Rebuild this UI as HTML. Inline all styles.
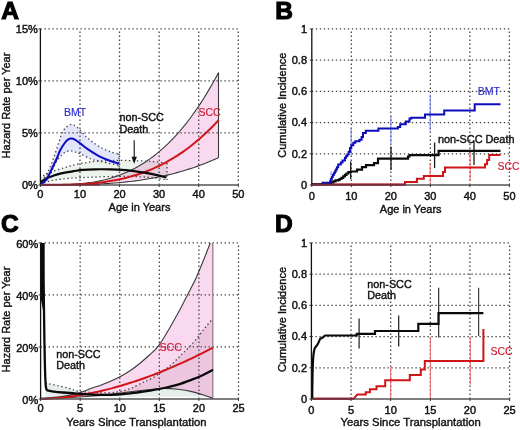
<!DOCTYPE html>
<html><head><meta charset="utf-8"><style>
html,body{margin:0;padding:0;background:#fff;}
body{width:520px;height:430px;overflow:hidden;font-family:"Liberation Sans",sans-serif;}
svg{display:block;}
</style></head><body>
<svg width="520" height="430" viewBox="0 0 520 430">
<rect width="520" height="430" fill="#fff"/>
<g>
<path d="M40.4,185 L43.37,185 L46.34,185 L49.31,184.99 L52.27,184.97 L55.24,184.93 L58.21,184.89 L61.18,184.82 L64.15,184.73 L67.12,184.62 L70.08,184.48 L73.05,184.31 L76.02,184.1 L78.99,183.86 L81.96,183.57 L84.93,183.24 L87.9,182.87 L90.86,182.44 L93.83,181.97 L96.8,181.43 L99.77,180.84 L102.74,180.18 L105.71,179.46 L108.68,178.67 L111.64,177.81 L114.61,176.87 L117.58,175.86 L120.55,174.76 L123.52,173.58 L126.49,172.31 L129.46,170.95 L132.42,169.5 L135.39,167.95 L138.36,166.3 L141.33,164.55 L144.3,162.69 L147.27,160.73 L150.23,158.65 L153.2,156.45 L156.17,154.14 L159.14,151.7 L162.11,149.14 L165.08,146.46 L168.05,143.64 L171.01,140.68 L173.98,137.59 L176.95,134.36 L179.92,130.99 L182.89,127.46 L185.86,123.79 L188.83,119.97 L191.79,115.99 L194.76,111.85 L197.73,107.55 L200.7,103.08 L203.67,98.44 L206.64,93.64 L209.6,88.65 L212.57,83.49 L215.54,78.15 L218.51,72.63 L218.51,157.59 L215.54,158.94 L212.57,160.24 L209.6,161.5 L206.64,162.72 L203.67,163.89 L200.7,165.02 L197.73,166.11 L194.76,167.16 L191.79,168.17 L188.83,169.14 L185.86,170.07 L182.89,170.97 L179.92,171.83 L176.95,172.65 L173.98,173.44 L171.01,174.19 L168.05,174.91 L165.08,175.6 L162.11,176.26 L159.14,176.88 L156.17,177.47 L153.2,178.04 L150.23,178.57 L147.27,179.08 L144.3,179.56 L141.33,180.01 L138.36,180.44 L135.39,180.84 L132.42,181.22 L129.46,181.57 L126.49,181.91 L123.52,182.21 L120.55,182.5 L117.58,182.77 L114.61,183.02 L111.64,183.25 L108.68,183.46 L105.71,183.65 L102.74,183.82 L99.77,183.98 L96.8,184.13 L93.83,184.26 L90.86,184.38 L87.9,184.48 L84.93,184.57 L81.96,184.65 L78.99,184.72 L76.02,184.78 L73.05,184.83 L70.08,184.87 L67.12,184.91 L64.15,184.94 L61.18,184.96 L58.21,184.97 L55.24,184.98 L52.27,184.99 L49.31,185 L46.34,185 L43.37,185 L40.4,185 Z" fill="#f9d9f0" stroke="none"/>
<path d="M40.3,178.5 C40.67,178.12 41.22,177.03 42.5,176.2 C43.78,175.37 45.92,174.43 48,173.5 C50.08,172.57 52.43,171.52 55,170.6 C57.57,169.68 60.9,168.77 63.4,168 C65.9,167.23 67.57,166.67 70,166 C72.43,165.33 75.17,164.58 78,164 C80.83,163.42 84.17,162.95 87,162.5 C89.83,162.05 91.17,161.62 95,161.3 C98.83,160.98 106,160.75 110,160.6 C114,160.45 115.67,160.4 119,160.4 C122.33,160.4 124.83,160.45 130,160.6 C135.17,160.75 143.83,160.9 150,161.3 C156.17,161.7 164.17,162.72 167,163 L167,180 L155,178 L140,176.8 L119,176.3 L92.4,177.2 L70,178.3 L56.1,179.9 L48,181.5 L41.6,183.5 L40.3,184.3 Z" fill="#edf3ed" stroke="none" style="mix-blend-mode:multiply"/>
<path d="M40.3,184.8 C40.67,184.08 41.6,182.08 42.5,180.5 C43.4,178.92 44.78,176.8 45.7,175.3 C46.62,173.8 47.3,172.83 48,171.5 C48.7,170.17 49.27,168.72 49.9,167.3 C50.53,165.88 51.28,164.3 51.8,163 C52.32,161.7 52.55,160.77 53,159.5 C53.45,158.23 53.78,157.48 54.5,155.4 C55.22,153.32 56.42,149.65 57.3,147 C58.18,144.35 58.92,142.03 59.8,139.5 C60.68,136.97 61.5,133.87 62.6,131.8 C63.7,129.73 65.13,128.3 66.4,127.1 C67.67,125.9 68.92,124.92 70.2,124.6 C71.48,124.28 72.6,124.45 74.1,125.2 C75.6,125.95 77.28,127.27 79.2,129.1 C81.12,130.93 83.27,133.97 85.6,136.2 C87.93,138.43 90.43,140.5 93.2,142.5 C95.97,144.5 99.2,146.6 102.2,148.2 C105.2,149.8 108.4,151.13 111.2,152.1 C114,153.07 117.7,153.68 119,154 L119,165.2 L108.6,163.2 L98.4,161 L90.7,158.9 L81.7,154.6 L75.3,152 L70.2,150.8 L65.1,152.2 L61.3,155.6 L57.8,159.5 L55,164.3 L52.6,169.5 L50,175 L46,181 L40.3,184.8 Z" fill="#e3e5fa" stroke="none"/>
</g>
<line x1="79.98" y1="185" x2="79.98" y2="28.9" stroke="#454545" stroke-width="1.3" stroke-dasharray="1.4 2.6" fill="none"/>
<line x1="119.56" y1="185" x2="119.56" y2="28.9" stroke="#454545" stroke-width="1.3" stroke-dasharray="1.4 2.6" fill="none"/>
<line x1="159.14" y1="185" x2="159.14" y2="28.9" stroke="#454545" stroke-width="1.3" stroke-dasharray="1.4 2.6" fill="none"/>
<line x1="198.72" y1="185" x2="198.72" y2="28.9" stroke="#454545" stroke-width="1.3" stroke-dasharray="1.4 2.6" fill="none"/>
<line x1="238.3" y1="185" x2="238.3" y2="28.9" stroke="#454545" stroke-width="1.3" stroke-dasharray="1.4 2.6" fill="none"/>
<line x1="40.4" y1="132.97" x2="238.3" y2="132.97" stroke="#454545" stroke-width="1.3" stroke-dasharray="1.4 2.6" fill="none"/>
<line x1="40.4" y1="80.93" x2="238.3" y2="80.93" stroke="#454545" stroke-width="1.3" stroke-dasharray="1.4 2.6" fill="none"/>
<line x1="40.4" y1="28.9" x2="238.3" y2="28.9" stroke="#454545" stroke-width="1.3" stroke-dasharray="1.4 2.6" fill="none"/>
<path d="M40.4,185 L43.37,185 L46.34,185 L49.31,184.99 L52.27,184.97 L55.24,184.93 L58.21,184.89 L61.18,184.82 L64.15,184.73 L67.12,184.62 L70.08,184.48 L73.05,184.31 L76.02,184.1 L78.99,183.86 L81.96,183.57 L84.93,183.24 L87.9,182.87 L90.86,182.44 L93.83,181.97 L96.8,181.43 L99.77,180.84 L102.74,180.18 L105.71,179.46 L108.68,178.67 L111.64,177.81 L114.61,176.87 L117.58,175.86 L120.55,174.76 L123.52,173.58 L126.49,172.31 L129.46,170.95 L132.42,169.5 L135.39,167.95 L138.36,166.3 L141.33,164.55 L144.3,162.69 L147.27,160.73 L150.23,158.65 L153.2,156.45 L156.17,154.14 L159.14,151.7 L162.11,149.14 L165.08,146.46 L168.05,143.64 L171.01,140.68 L173.98,137.59 L176.95,134.36 L179.92,130.99 L182.89,127.46 L185.86,123.79 L188.83,119.97 L191.79,115.99 L194.76,111.85 L197.73,107.55 L200.7,103.08 L203.67,98.44 L206.64,93.64 L209.6,88.65 L212.57,83.49 L215.54,78.15 L218.51,72.63" stroke="#3a3a3a" stroke-width="1.1" fill="none"/>
<path d="M40.4,185 L43.37,185 L46.34,185 L49.31,185 L52.27,184.99 L55.24,184.98 L58.21,184.97 L61.18,184.96 L64.15,184.94 L67.12,184.91 L70.08,184.87 L73.05,184.83 L76.02,184.78 L78.99,184.72 L81.96,184.65 L84.93,184.57 L87.9,184.48 L90.86,184.38 L93.83,184.26 L96.8,184.13 L99.77,183.98 L102.74,183.82 L105.71,183.65 L108.68,183.46 L111.64,183.25 L114.61,183.02 L117.58,182.77 L120.55,182.5 L123.52,182.21 L126.49,181.91 L129.46,181.57 L132.42,181.22 L135.39,180.84 L138.36,180.44 L141.33,180.01 L144.3,179.56 L147.27,179.08 L150.23,178.57 L153.2,178.04 L156.17,177.47 L159.14,176.88 L162.11,176.26 L165.08,175.6 L168.05,174.91 L171.01,174.19 L173.98,173.44 L176.95,172.65 L179.92,171.83 L182.89,170.97 L185.86,170.07 L188.83,169.14 L191.79,168.17 L194.76,167.16 L197.73,166.11 L200.7,165.02 L203.67,163.89 L206.64,162.72 L209.6,161.5 L212.57,160.24 L215.54,158.94 L218.51,157.59" stroke="#3a3a3a" stroke-width="1.1" fill="none"/>
<line x1="218.51" y1="72.63" x2="218.51" y2="157.59" stroke="#3a3a3a" stroke-width="1.1"/>
<path d="M40.3,178.5 C40.67,178.12 41.22,177.03 42.5,176.2 C43.78,175.37 45.92,174.43 48,173.5 C50.08,172.57 52.43,171.52 55,170.6 C57.57,169.68 60.9,168.77 63.4,168 C65.9,167.23 67.57,166.67 70,166 C72.43,165.33 75.17,164.58 78,164 C80.83,163.42 84.17,162.95 87,162.5 C89.83,162.05 91.17,161.62 95,161.3 C98.83,160.98 106,160.75 110,160.6 C114,160.45 115.67,160.4 119,160.4 C122.33,160.4 124.83,160.45 130,160.6 C135.17,160.75 143.83,160.9 150,161.3 C156.17,161.7 164.17,162.72 167,163" stroke="#444" stroke-width="1.3" stroke-dasharray="1.4 2.6" fill="none"/>
<path d="M40.3,184.3 C40.52,184.17 40.32,183.97 41.6,183.5 C42.88,183.03 45.58,182.1 48,181.5 C50.42,180.9 52.43,180.43 56.1,179.9 C59.77,179.37 63.95,178.75 70,178.3 C76.05,177.85 84.23,177.53 92.4,177.2 C100.57,176.87 111.07,176.37 119,176.3 C126.93,176.23 134,176.52 140,176.8 C146,177.08 150.5,177.47 155,178 C159.5,178.53 165,179.67 167,180" stroke="#444" stroke-width="1.3" stroke-dasharray="1.4 2.6" fill="none"/>
<line x1="167" y1="163" x2="167" y2="180" stroke="#444" stroke-width="1.3" stroke-dasharray="1.4 2.6" fill="none"/>
<path d="M40.3,184.8 C40.67,184.08 41.6,182.08 42.5,180.5 C43.4,178.92 44.78,176.8 45.7,175.3 C46.62,173.8 47.3,172.83 48,171.5 C48.7,170.17 49.27,168.72 49.9,167.3 C50.53,165.88 51.28,164.3 51.8,163 C52.32,161.7 52.55,160.77 53,159.5 C53.45,158.23 53.78,157.48 54.5,155.4 C55.22,153.32 56.42,149.65 57.3,147 C58.18,144.35 58.92,142.03 59.8,139.5 C60.68,136.97 61.5,133.87 62.6,131.8 C63.7,129.73 65.13,128.3 66.4,127.1 C67.67,125.9 68.92,124.92 70.2,124.6 C71.48,124.28 72.6,124.45 74.1,125.2 C75.6,125.95 77.28,127.27 79.2,129.1 C81.12,130.93 83.27,133.97 85.6,136.2 C87.93,138.43 90.43,140.5 93.2,142.5 C95.97,144.5 99.2,146.6 102.2,148.2 C105.2,149.8 108.4,151.13 111.2,152.1 C114,153.07 117.7,153.68 119,154" stroke="#444" stroke-width="1.3" stroke-dasharray="1.4 2.6" fill="none"/>
<path d="M40.3,184.8 C41.25,184.17 44.38,182.63 46,181 C47.62,179.37 48.9,176.92 50,175 C51.1,173.08 51.77,171.28 52.6,169.5 C53.43,167.72 54.13,165.97 55,164.3 C55.87,162.63 56.75,160.95 57.8,159.5 C58.85,158.05 60.08,156.82 61.3,155.6 C62.52,154.38 63.62,153 65.1,152.2 C66.58,151.4 68.5,150.83 70.2,150.8 C71.9,150.77 73.38,151.37 75.3,152 C77.22,152.63 79.13,153.45 81.7,154.6 C84.27,155.75 87.92,157.83 90.7,158.9 C93.48,159.97 95.42,160.28 98.4,161 C101.38,161.72 105.17,162.5 108.6,163.2 C112.03,163.9 117.27,164.87 119,165.2" stroke="#444" stroke-width="1.3" stroke-dasharray="1.4 2.6" fill="none"/>
<line x1="119" y1="153.5" x2="119" y2="167.3" stroke="#444" stroke-width="1.3" stroke-dasharray="1.4 2.6" fill="none"/>
<path d="M40.4,185 L43.37,185 L46.34,185 L49.31,184.99 L52.27,184.98 L55.24,184.96 L58.21,184.94 L61.18,184.9 L64.15,184.85 L67.12,184.78 L70.08,184.7 L73.05,184.6 L76.02,184.48 L78.99,184.34 L81.96,184.18 L84.93,183.99 L87.9,183.77 L90.86,183.53 L93.83,183.25 L96.8,182.94 L99.77,182.6 L102.74,182.22 L105.71,181.81 L108.68,181.35 L111.64,180.85 L114.61,180.31 L117.58,179.73 L120.55,179.1 L123.52,178.42 L126.49,177.69 L129.46,176.9 L132.42,176.07 L135.39,175.17 L138.36,174.22 L141.33,173.21 L144.3,172.14 L147.27,171.01 L150.23,169.81 L153.2,168.55 L156.17,167.21 L159.14,165.81 L162.11,164.33 L165.08,162.78 L168.05,161.16 L171.01,159.46 L173.98,157.68 L176.95,155.81 L179.92,153.87 L182.89,151.84 L185.86,149.72 L188.83,147.52 L191.79,145.22 L194.76,142.84 L197.73,140.36 L200.7,137.78 L203.67,135.11 L206.64,132.34 L209.6,129.47 L212.57,126.49 L215.54,123.42 L218.51,120.23" stroke="#d01519" stroke-width="2" fill="none"/>
<path d="M40.3,182.2 C41.2,181.63 43.53,179.88 45.7,178.8 C47.87,177.72 50.75,176.6 53.3,175.7 C55.85,174.8 57.62,174.15 61,173.4 C64.38,172.65 69.95,171.8 73.6,171.2 C77.25,170.6 79.33,170.12 82.9,169.8 C86.47,169.48 90.48,169.37 95,169.3 C99.52,169.23 104.17,169.18 110,169.4 C115.83,169.62 123.33,169.88 130,170.6 C136.67,171.32 143.92,172.57 150,173.7 C156.08,174.83 163.75,176.78 166.5,177.4" stroke="#0a0a0a" stroke-width="2.2" fill="none"/>
<path d="M40.3,184.8 C40.43,184.68 40.2,184.85 41.1,184.1 C42,183.35 44.3,182.02 45.7,180.3 C47.1,178.58 48.23,176.23 49.5,173.8 C50.77,171.37 52.05,168.33 53.3,165.7 C54.55,163.07 55.83,160.62 57,158 C58.17,155.38 58.95,152.58 60.3,150 C61.65,147.42 63.82,144.23 65.1,142.5 C66.38,140.77 67.03,140.25 68,139.6 C68.97,138.95 69.68,138.57 70.9,138.6 C72.12,138.63 73.7,138.97 75.3,139.8 C76.9,140.63 78.37,142 80.5,143.6 C82.63,145.2 85.12,147.37 88.1,149.4 C91.08,151.43 94.98,153.98 98.4,155.8 C101.82,157.62 105.17,159 108.6,160.3 C112.03,161.6 117.27,163.05 119,163.6" stroke="#0c0cbc" stroke-width="2" fill="none"/>
<path d="M40.4,28.9 V185" stroke="#111" stroke-width="1.3" fill="none"/>
<path d="M40.4,185 H238.3" stroke="#555" stroke-width="1.3" fill="none"/>
<line x1="40.4" y1="185" x2="40.4" y2="187" stroke="#333" stroke-width="1"/>
<line x1="79.98" y1="185" x2="79.98" y2="187" stroke="#333" stroke-width="1"/>
<line x1="119.56" y1="185" x2="119.56" y2="187" stroke="#333" stroke-width="1"/>
<line x1="159.14" y1="185" x2="159.14" y2="187" stroke="#333" stroke-width="1"/>
<line x1="198.72" y1="185" x2="198.72" y2="187" stroke="#333" stroke-width="1"/>
<line x1="238.3" y1="185" x2="238.3" y2="187" stroke="#333" stroke-width="1"/>
<line x1="38.4" y1="185" x2="40.4" y2="185" stroke="#333" stroke-width="1"/>
<line x1="38.4" y1="132.97" x2="40.4" y2="132.97" stroke="#333" stroke-width="1"/>
<line x1="38.4" y1="80.93" x2="40.4" y2="80.93" stroke="#333" stroke-width="1"/>
<line x1="38.4" y1="28.9" x2="40.4" y2="28.9" stroke="#333" stroke-width="1"/>
<line x1="41" y1="184.7" x2="100" y2="184.7" stroke="#7e2838" stroke-width="1.8"/>
<line x1="134.2" y1="140.3" x2="134.2" y2="158" stroke="#111" stroke-width="1.1"/>
<path d="M131.5,156.8 L136.9,156.8 L134.2,163.8 Z" fill="#111"/>
<text x="40.4" y="198.3" font-size="11" text-anchor="middle" fill="#111" font-weight="normal" stroke="#111" stroke-width="0.45" font-family="Liberation Sans, sans-serif" >0</text>
<text x="79.98" y="198.3" font-size="11" text-anchor="middle" fill="#111" font-weight="normal" stroke="#111" stroke-width="0.45" font-family="Liberation Sans, sans-serif" >10</text>
<text x="119.56" y="198.3" font-size="11" text-anchor="middle" fill="#111" font-weight="normal" stroke="#111" stroke-width="0.45" font-family="Liberation Sans, sans-serif" >20</text>
<text x="159.14" y="198.3" font-size="11" text-anchor="middle" fill="#111" font-weight="normal" stroke="#111" stroke-width="0.45" font-family="Liberation Sans, sans-serif" >30</text>
<text x="198.72" y="198.3" font-size="11" text-anchor="middle" fill="#111" font-weight="normal" stroke="#111" stroke-width="0.45" font-family="Liberation Sans, sans-serif" >40</text>
<text x="238.3" y="198.3" font-size="11" text-anchor="middle" fill="#111" font-weight="normal" stroke="#111" stroke-width="0.45" font-family="Liberation Sans, sans-serif" >50</text>
<text x="37.8" y="188.9" font-size="11" text-anchor="end" fill="#111" font-weight="normal" stroke="#111" stroke-width="0.45" font-family="Liberation Sans, sans-serif" >0%</text>
<text x="37.8" y="136.87" font-size="11" text-anchor="end" fill="#111" font-weight="normal" stroke="#111" stroke-width="0.45" font-family="Liberation Sans, sans-serif" >5%</text>
<text x="37.8" y="84.83" font-size="11" text-anchor="end" fill="#111" font-weight="normal" stroke="#111" stroke-width="0.45" font-family="Liberation Sans, sans-serif" >10%</text>
<text x="37.8" y="32.8" font-size="11" text-anchor="end" fill="#111" font-weight="normal" stroke="#111" stroke-width="0.45" font-family="Liberation Sans, sans-serif" >15%</text>
<text x="139.5" y="211.3" font-size="11" text-anchor="middle" fill="#111" font-weight="normal" stroke="#111" stroke-width="0.4" font-family="Liberation Sans, sans-serif" >Age in Years</text>
<text x="9.9" y="105.5" font-size="11" text-anchor="middle" fill="#111" font-weight="normal" stroke="#111" stroke-width="0.4" font-family="Liberation Sans, sans-serif" transform="rotate(-90 9.9 105.5)">Hazard Rate per Year</text>
<text x="64" y="116.2" font-size="10.5" text-anchor="start" fill="#2a2ad0" font-weight="normal" stroke="#2a2ad0" stroke-width="0.15" font-family="Liberation Sans, sans-serif" >BMT</text>
<text x="119.5" y="121" font-size="10.8" text-anchor="start" fill="#111" font-weight="normal" stroke="#111" stroke-width="0.4" font-family="Liberation Sans, sans-serif" >non-SCC</text>
<text x="119.5" y="133" font-size="10.8" text-anchor="start" fill="#111" font-weight="normal" stroke="#111" stroke-width="0.4" font-family="Liberation Sans, sans-serif" >Death</text>
<text x="198.4" y="115.8" font-size="10.5" text-anchor="start" fill="#d0182c" font-weight="normal" stroke="#d0182c" stroke-width="0.15" font-family="Liberation Sans, sans-serif" >SCC</text>
<text x="1.2" y="19.2" font-size="24.5" text-anchor="start" fill="#000" font-weight="bold" stroke="#000" stroke-width="1.1" font-family="Liberation Sans, sans-serif" >A</text>
<line x1="351.32" y1="185" x2="351.32" y2="28.9" stroke="#454545" stroke-width="1.3" stroke-dasharray="1.4 2.6" fill="none"/>
<line x1="390.84" y1="185" x2="390.84" y2="28.9" stroke="#454545" stroke-width="1.3" stroke-dasharray="1.4 2.6" fill="none"/>
<line x1="430.36" y1="185" x2="430.36" y2="28.9" stroke="#454545" stroke-width="1.3" stroke-dasharray="1.4 2.6" fill="none"/>
<line x1="469.88" y1="185" x2="469.88" y2="28.9" stroke="#454545" stroke-width="1.3" stroke-dasharray="1.4 2.6" fill="none"/>
<line x1="509.4" y1="185" x2="509.4" y2="28.9" stroke="#454545" stroke-width="1.3" stroke-dasharray="1.4 2.6" fill="none"/>
<line x1="311.8" y1="153.78" x2="509.4" y2="153.78" stroke="#454545" stroke-width="1.3" stroke-dasharray="1.4 2.6" fill="none"/>
<line x1="311.8" y1="122.56" x2="509.4" y2="122.56" stroke="#454545" stroke-width="1.3" stroke-dasharray="1.4 2.6" fill="none"/>
<line x1="311.8" y1="91.34" x2="509.4" y2="91.34" stroke="#454545" stroke-width="1.3" stroke-dasharray="1.4 2.6" fill="none"/>
<line x1="311.8" y1="60.12" x2="509.4" y2="60.12" stroke="#454545" stroke-width="1.3" stroke-dasharray="1.4 2.6" fill="none"/>
<line x1="311.8" y1="28.9" x2="509.4" y2="28.9" stroke="#454545" stroke-width="1.3" stroke-dasharray="1.4 2.6" fill="none"/>
<line x1="331" y1="171.4" x2="331" y2="175.5" stroke="#6f7fe6" stroke-width="1" stroke-opacity="1"/>
<line x1="351.1" y1="128" x2="351.1" y2="155" stroke="#6f7fe6" stroke-width="1" stroke-opacity="1"/>
<line x1="390.9" y1="115.6" x2="390.9" y2="143.5" stroke="#6f7fe6" stroke-width="1" stroke-opacity="1"/>
<line x1="430.2" y1="94.5" x2="430.2" y2="130.5" stroke="#6f7fe6" stroke-width="1" stroke-opacity="1"/>
<line x1="350.7" y1="161.5" x2="350.7" y2="179" stroke="#1a1a1a" stroke-width="1.3" stroke-opacity="1"/>
<line x1="391" y1="146.6" x2="391" y2="170" stroke="#1a1a1a" stroke-width="1.3" stroke-opacity="1"/>
<line x1="434.6" y1="142.5" x2="434.6" y2="168" stroke="#1a1a1a" stroke-width="1.3" stroke-opacity="1"/>
<line x1="474" y1="140.5" x2="474" y2="165" stroke="#1a1a1a" stroke-width="1.3" stroke-opacity="1"/>
<line x1="430.2" y1="163" x2="430.2" y2="185" stroke="#e86a6a" stroke-width="1" stroke-opacity="1"/>
<line x1="470.2" y1="153" x2="470.2" y2="181" stroke="#e86a6a" stroke-width="1" stroke-opacity="1"/>
<path d="M311.8,184.6 H405 V181.9 H416.9 V178.8 H423.8 V175.9 H443 V172 H445 V167.4 H485 V164.2 H487.1 V160 H489.2 V155.1 H500.5" stroke="#d01519" stroke-width="2" fill="none"/>
<path d="M311.8,184.4 H329.8 V183.3 H331 V182.3 H333.3 V181.3 H335.5 V180.4 H337.9 V180.1 H339.5 V179 H341.4 V177.8 H343.2 V176.3 H344.9 V174.9 H346.5 V173.5 H348.4 V172 H351 V171.5 H357 V169.6 H362 V167.2 H366 V165.2 H374 V163.2 H378 V158.7 H408 V156.5 H409.5 V155.2 H438.6 V150.9 H500.5" stroke="#0a0a0a" stroke-width="2.2" fill="none"/>
<path d="M321.6,182.7 H330 V181.5 H330.8 V179 H331.8 V177 H332.8 V175 H333.8 V173.2 H334.8 V171.4 H335.8 V169.5 H336.9 V167.2 H338.2 V164.5 H340.8 V162.4 H342.5 V160.5 H344.9 V157.8 H346.2 V156 H347.3 V154.4 H348.6 V151.8 H350 V148 H351.3 V145.2 H353.3 V142.8 H355.3 V141.2 H359.5 V139.8 H361.6 V137 H363 V133 H365.8 V130.8 H378.4 V128.5 H397.9 V127 H400.2 V124.2 H405.8 V121.4 H409.5 V118.6 H411.4 V117.7 H425 V114.6 H444.2 V110.5 H474.7 V104.2 H500.5" stroke="#0c0cbc" stroke-width="2" fill="none"/>
<path d="M311.8,28.9 V185" stroke="#111" stroke-width="1.3" fill="none"/>
<path d="M311.8,185 H509.4" stroke="#555" stroke-width="1.3" fill="none"/>
<line x1="311.8" y1="185" x2="311.8" y2="187" stroke="#333" stroke-width="1"/>
<line x1="351.32" y1="185" x2="351.32" y2="187" stroke="#333" stroke-width="1"/>
<line x1="390.84" y1="185" x2="390.84" y2="187" stroke="#333" stroke-width="1"/>
<line x1="430.36" y1="185" x2="430.36" y2="187" stroke="#333" stroke-width="1"/>
<line x1="469.88" y1="185" x2="469.88" y2="187" stroke="#333" stroke-width="1"/>
<line x1="509.4" y1="185" x2="509.4" y2="187" stroke="#333" stroke-width="1"/>
<line x1="309.8" y1="185" x2="311.8" y2="185" stroke="#333" stroke-width="1"/>
<line x1="309.8" y1="153.78" x2="311.8" y2="153.78" stroke="#333" stroke-width="1"/>
<line x1="309.8" y1="122.56" x2="311.8" y2="122.56" stroke="#333" stroke-width="1"/>
<line x1="309.8" y1="91.34" x2="311.8" y2="91.34" stroke="#333" stroke-width="1"/>
<line x1="309.8" y1="60.12" x2="311.8" y2="60.12" stroke="#333" stroke-width="1"/>
<line x1="309.8" y1="28.9" x2="311.8" y2="28.9" stroke="#333" stroke-width="1"/>
<line x1="312.3" y1="184.7" x2="405.5" y2="184.7" stroke="#7e2838" stroke-width="1.8"/>
<text x="311.8" y="199.6" font-size="11" text-anchor="middle" fill="#111" font-weight="normal" stroke="#111" stroke-width="0.45" font-family="Liberation Sans, sans-serif" >0</text>
<text x="351.32" y="199.6" font-size="11" text-anchor="middle" fill="#111" font-weight="normal" stroke="#111" stroke-width="0.45" font-family="Liberation Sans, sans-serif" >10</text>
<text x="390.84" y="199.6" font-size="11" text-anchor="middle" fill="#111" font-weight="normal" stroke="#111" stroke-width="0.45" font-family="Liberation Sans, sans-serif" >20</text>
<text x="430.36" y="199.6" font-size="11" text-anchor="middle" fill="#111" font-weight="normal" stroke="#111" stroke-width="0.45" font-family="Liberation Sans, sans-serif" >30</text>
<text x="469.88" y="199.6" font-size="11" text-anchor="middle" fill="#111" font-weight="normal" stroke="#111" stroke-width="0.45" font-family="Liberation Sans, sans-serif" >40</text>
<text x="509.4" y="199.6" font-size="11" text-anchor="middle" fill="#111" font-weight="normal" stroke="#111" stroke-width="0.45" font-family="Liberation Sans, sans-serif" >50</text>
<text x="307" y="188.9" font-size="11" text-anchor="end" fill="#111" font-weight="normal" stroke="#111" stroke-width="0.45" font-family="Liberation Sans, sans-serif" >0</text>
<text x="307" y="157.68" font-size="11" text-anchor="end" fill="#111" font-weight="normal" stroke="#111" stroke-width="0.45" font-family="Liberation Sans, sans-serif" >0.2</text>
<text x="307" y="126.46" font-size="11" text-anchor="end" fill="#111" font-weight="normal" stroke="#111" stroke-width="0.45" font-family="Liberation Sans, sans-serif" >0.4</text>
<text x="307" y="95.24" font-size="11" text-anchor="end" fill="#111" font-weight="normal" stroke="#111" stroke-width="0.45" font-family="Liberation Sans, sans-serif" >0.6</text>
<text x="307" y="64.02" font-size="11" text-anchor="end" fill="#111" font-weight="normal" stroke="#111" stroke-width="0.45" font-family="Liberation Sans, sans-serif" >0.8</text>
<text x="307" y="32.8" font-size="11" text-anchor="end" fill="#111" font-weight="normal" stroke="#111" stroke-width="0.45" font-family="Liberation Sans, sans-serif" >1</text>
<text x="410.7" y="213" font-size="11" text-anchor="middle" fill="#111" font-weight="normal" stroke="#111" stroke-width="0.4" font-family="Liberation Sans, sans-serif" >Age in Years</text>
<text x="285.6" y="105.2" font-size="11" text-anchor="middle" fill="#111" font-weight="normal" stroke="#111" stroke-width="0.4" font-family="Liberation Sans, sans-serif" transform="rotate(-90 285.6 105.2)">Cumulative Incidence</text>
<text x="477.8" y="95.3" font-size="10.5" text-anchor="start" fill="#2a2ad0" font-weight="normal" stroke="#2a2ad0" stroke-width="0.15" font-family="Liberation Sans, sans-serif" >BMT</text>
<text x="437.9" y="142.6" font-size="10.85" text-anchor="start" fill="#111" font-weight="normal" stroke="#111" stroke-width="0.4" font-family="Liberation Sans, sans-serif" >non-SCC Death</text>
<text x="497.5" y="169.7" font-size="10.5" text-anchor="start" fill="#d0182c" font-weight="normal" stroke="#d0182c" stroke-width="0.15" font-family="Liberation Sans, sans-serif" >SCC</text>
<text x="275.2" y="18.8" font-size="24.5" text-anchor="start" fill="#000" font-weight="bold" stroke="#000" stroke-width="1.1" font-family="Liberation Sans, sans-serif" >B</text>
<defs><clipPath id="clipC"><rect x="40.6" y="242.9" width="197.9" height="156.1"/></clipPath></defs>
<defs><clipPath id="pinkC"><path d="M41.2,398.3 C44.33,398.07 54.03,397.68 60,396.9 C65.97,396.12 72,394.95 77,393.6 C82,392.25 86.17,390.17 90,388.8 C93.83,387.43 96.67,386.62 100,385.4 C103.33,384.18 106.67,382.93 110,381.5 C113.33,380.07 116.67,378.58 120,376.8 C123.33,375.02 126.67,373.07 130,370.8 C133.33,368.53 136.67,365.92 140,363.2 C143.33,360.48 147.17,357.1 150,354.5 C152.83,351.9 154.72,350.35 157,347.6 C159.28,344.85 161.62,341.23 163.7,338 C165.78,334.77 167.62,331.45 169.5,328.2 C171.38,324.95 173.25,321.6 175,318.5 C176.75,315.4 177.82,313.73 180,309.6 C182.18,305.47 185.38,299.05 188.1,293.7 C190.82,288.35 193.58,283.45 196.3,277.5 C199.02,271.55 202.1,263.7 204.4,258 C206.7,252.3 208.7,246.97 210.1,243.3 C211.5,239.63 212.35,237.22 212.8,236 L212.93,398.3 L205.8,395.8 L191.8,391.6 L177.9,389.3 L164,388.4 L151,389.5 L130,391.8 L100,395.5 L70,397.5 L41.2,398.3 Z"/></clipPath></defs>
<g clip-path="url(#clipC)">
<path d="M45.6,383 C46.05,383.1 46.35,383.17 48.3,383.6 C50.25,384.03 53.88,384.82 57.3,385.6 C60.72,386.38 65.52,387.4 68.8,388.3 C72.08,389.2 73.47,390.33 77,391 C80.53,391.67 85.82,391.97 90,392.3 C94.18,392.63 97.77,393.02 102.1,393 C106.43,392.98 112.18,392.65 116,392.2 C119.82,391.75 122.17,391.08 125,390.3 C127.83,389.52 130.18,388.75 133,387.5 C135.82,386.25 139.67,383.9 141.9,382.8 C144.13,381.7 144.37,381.85 146.4,380.9 C148.43,379.95 151.75,378.48 154.1,377.1 C156.45,375.72 158.37,374.07 160.5,372.6 C162.63,371.13 164.98,369.73 166.9,368.3 C168.82,366.87 170.08,365.73 172,364 C173.92,362.27 176.48,359.8 178.4,357.9 C180.32,356 181.58,354.52 183.5,352.6 C185.42,350.68 187.58,348.88 189.9,346.4 C192.22,343.92 194.98,340.67 197.4,337.7 C199.82,334.73 202.3,331.25 204.4,328.6 C206.5,325.95 208.58,323.37 210,321.8 C211.42,320.23 212.44,319.63 212.93,319.2 L212.93,396.8 L45.6,396.8 Z" fill="#e6eeec" stroke="none"/>
<path d="M41.2,398.3 C44.33,398.07 54.03,397.68 60,396.9 C65.97,396.12 72,394.95 77,393.6 C82,392.25 86.17,390.17 90,388.8 C93.83,387.43 96.67,386.62 100,385.4 C103.33,384.18 106.67,382.93 110,381.5 C113.33,380.07 116.67,378.58 120,376.8 C123.33,375.02 126.67,373.07 130,370.8 C133.33,368.53 136.67,365.92 140,363.2 C143.33,360.48 147.17,357.1 150,354.5 C152.83,351.9 154.72,350.35 157,347.6 C159.28,344.85 161.62,341.23 163.7,338 C165.78,334.77 167.62,331.45 169.5,328.2 C171.38,324.95 173.25,321.6 175,318.5 C176.75,315.4 177.82,313.73 180,309.6 C182.18,305.47 185.38,299.05 188.1,293.7 C190.82,288.35 193.58,283.45 196.3,277.5 C199.02,271.55 202.1,263.7 204.4,258 C206.7,252.3 208.7,246.97 210.1,243.3 C211.5,239.63 212.35,237.22 212.8,236 L212.93,398.3 L205.8,395.8 L191.8,391.6 L177.9,389.3 L164,388.4 L151,389.5 L130,391.8 L100,395.5 L70,397.5 L41.2,398.3 Z" fill="#f9d9f0" stroke="none"/>
<path d="M45.6,383 C46.05,383.1 46.35,383.17 48.3,383.6 C50.25,384.03 53.88,384.82 57.3,385.6 C60.72,386.38 65.52,387.4 68.8,388.3 C72.08,389.2 73.47,390.33 77,391 C80.53,391.67 85.82,391.97 90,392.3 C94.18,392.63 97.77,393.02 102.1,393 C106.43,392.98 112.18,392.65 116,392.2 C119.82,391.75 122.17,391.08 125,390.3 C127.83,389.52 130.18,388.75 133,387.5 C135.82,386.25 139.67,383.9 141.9,382.8 C144.13,381.7 144.37,381.85 146.4,380.9 C148.43,379.95 151.75,378.48 154.1,377.1 C156.45,375.72 158.37,374.07 160.5,372.6 C162.63,371.13 164.98,369.73 166.9,368.3 C168.82,366.87 170.08,365.73 172,364 C173.92,362.27 176.48,359.8 178.4,357.9 C180.32,356 181.58,354.52 183.5,352.6 C185.42,350.68 187.58,348.88 189.9,346.4 C192.22,343.92 194.98,340.67 197.4,337.7 C199.82,334.73 202.3,331.25 204.4,328.6 C206.5,325.95 208.58,323.37 210,321.8 C211.42,320.23 212.44,319.63 212.93,319.2 L212.93,396.8 L45.6,396.8 Z" fill="#ecc6de" stroke="none" clip-path="url(#pinkC)"/>
</g>
<line x1="80.18" y1="399" x2="80.18" y2="242.9" stroke="#454545" stroke-width="1.3" stroke-dasharray="1.4 2.6" fill="none"/>
<line x1="119.76" y1="399" x2="119.76" y2="242.9" stroke="#454545" stroke-width="1.3" stroke-dasharray="1.4 2.6" fill="none"/>
<line x1="159.34" y1="399" x2="159.34" y2="242.9" stroke="#454545" stroke-width="1.3" stroke-dasharray="1.4 2.6" fill="none"/>
<line x1="198.92" y1="399" x2="198.92" y2="242.9" stroke="#454545" stroke-width="1.3" stroke-dasharray="1.4 2.6" fill="none"/>
<line x1="238.5" y1="399" x2="238.5" y2="242.9" stroke="#454545" stroke-width="1.3" stroke-dasharray="1.4 2.6" fill="none"/>
<line x1="40.6" y1="346.97" x2="238.5" y2="346.97" stroke="#454545" stroke-width="1.3" stroke-dasharray="1.4 2.6" fill="none"/>
<line x1="40.6" y1="294.93" x2="238.5" y2="294.93" stroke="#454545" stroke-width="1.3" stroke-dasharray="1.4 2.6" fill="none"/>
<line x1="40.6" y1="242.9" x2="238.5" y2="242.9" stroke="#454545" stroke-width="1.3" stroke-dasharray="1.4 2.6" fill="none"/>
<path d="M41.2,398.3 C44.33,398.07 54.03,397.68 60,396.9 C65.97,396.12 72,394.95 77,393.6 C82,392.25 86.17,390.17 90,388.8 C93.83,387.43 96.67,386.62 100,385.4 C103.33,384.18 106.67,382.93 110,381.5 C113.33,380.07 116.67,378.58 120,376.8 C123.33,375.02 126.67,373.07 130,370.8 C133.33,368.53 136.67,365.92 140,363.2 C143.33,360.48 147.17,357.1 150,354.5 C152.83,351.9 154.72,350.35 157,347.6 C159.28,344.85 161.62,341.23 163.7,338 C165.78,334.77 167.62,331.45 169.5,328.2 C171.38,324.95 173.25,321.6 175,318.5 C176.75,315.4 177.82,313.73 180,309.6 C182.18,305.47 185.38,299.05 188.1,293.7 C190.82,288.35 193.58,283.45 196.3,277.5 C199.02,271.55 202.1,263.7 204.4,258 C206.7,252.3 208.7,246.97 210.1,243.3 C211.5,239.63 212.35,237.22 212.8,236" stroke="#3a3a3a" stroke-width="1.1" fill="none" clip-path="url(#clipC)"/>
<path d="M41.2,398.3 C46,398.17 60.2,397.97 70,397.5 C79.8,397.03 90,396.45 100,395.5 C110,394.55 121.5,392.8 130,391.8 C138.5,390.8 145.33,390.07 151,389.5 C156.67,388.93 159.52,388.43 164,388.4 C168.48,388.37 173.27,388.77 177.9,389.3 C182.53,389.83 187.15,390.52 191.8,391.6 C196.45,392.68 202.28,394.68 205.8,395.8 C209.32,396.92 211.74,397.88 212.93,398.3" stroke="#3a3a3a" stroke-width="1.1" fill="none"/>
<path d="M45.6,383 C46.05,383.1 46.35,383.17 48.3,383.6 C50.25,384.03 53.88,384.82 57.3,385.6 C60.72,386.38 65.52,387.4 68.8,388.3 C72.08,389.2 73.47,390.33 77,391 C80.53,391.67 85.82,391.97 90,392.3 C94.18,392.63 97.77,393.02 102.1,393 C106.43,392.98 112.18,392.65 116,392.2 C119.82,391.75 122.17,391.08 125,390.3 C127.83,389.52 130.18,388.75 133,387.5 C135.82,386.25 139.67,383.9 141.9,382.8 C144.13,381.7 144.37,381.85 146.4,380.9 C148.43,379.95 151.75,378.48 154.1,377.1 C156.45,375.72 158.37,374.07 160.5,372.6 C162.63,371.13 164.98,369.73 166.9,368.3 C168.82,366.87 170.08,365.73 172,364 C173.92,362.27 176.48,359.8 178.4,357.9 C180.32,356 181.58,354.52 183.5,352.6 C185.42,350.68 187.58,348.88 189.9,346.4 C192.22,343.92 194.98,340.67 197.4,337.7 C199.82,334.73 202.3,331.25 204.4,328.6 C206.5,325.95 208.58,323.37 210,321.8 C211.42,320.23 212.44,319.63 212.93,319.2" stroke="#444" stroke-width="1.3" stroke-dasharray="1.4 2.6" fill="none"/>
<line x1="212.83" y1="242.9" x2="212.83" y2="399" stroke="#8e7484" stroke-width="1.2"/>
<path d="M40.6,399 L43.47,398.96 L46.34,398.88 L49.22,398.74 L52.09,398.57 L54.96,398.37 L57.83,398.13 L60.71,397.86 L63.58,397.55 L66.45,397.21 L69.32,396.85 L72.19,396.45 L75.07,396.03 L77.94,395.58 L80.81,395.1 L83.68,394.59 L86.56,394.06 L89.43,393.5 L92.3,392.91 L95.17,392.3 L98.04,391.66 L100.92,391 L103.79,390.31 L106.66,389.6 L109.53,388.87 L112.4,388.11 L115.28,387.32 L118.15,386.52 L121.02,385.69 L123.89,384.83 L126.77,383.96 L129.64,383.06 L132.51,382.14 L135.38,381.19 L138.25,380.23 L141.13,379.24 L144,378.23 L146.87,377.2 L149.74,376.14 L152.62,375.07 L155.49,373.97 L158.36,372.85 L161.23,371.71 L164.1,370.55 L166.98,369.37 L169.85,368.17 L172.72,366.95 L175.59,365.7 L178.47,364.44 L181.34,363.15 L184.21,361.85 L187.08,360.52 L189.95,359.18 L192.83,357.81 L195.7,356.43 L198.57,355.02 L201.44,353.6 L204.31,352.15 L207.19,350.69 L210.06,349.2 L212.93,347.7" stroke="#d01519" stroke-width="2" fill="none"/>
<path d="M43.3,242.7 C43.33,248.92 43.38,268.62 43.5,280 C43.62,291.38 43.85,301 44,311 C44.15,321 44.25,331 44.4,340 C44.55,349 44.73,358.33 44.9,365 C45.07,371.67 45.23,376.33 45.4,380 C45.57,383.67 45.67,385.37 45.9,387 C46.13,388.63 46.37,389.18 46.8,389.8 C47.23,390.42 47.63,390.45 48.5,390.7 C49.37,390.95 49.58,391 52,391.3 C54.42,391.6 58.85,392.12 63,392.5 C67.15,392.88 70.73,393.2 76.9,393.6 C83.07,394 93.32,394.73 100,394.9 C106.68,395.07 110.83,395 117,394.6 C123.17,394.2 131.5,393.17 137,392.5 C142.5,391.83 145.5,391.35 150,390.6 C154.5,389.85 159.35,389 164,388 C168.65,387 173.27,385.98 177.9,384.6 C182.53,383.22 187.78,381.22 191.8,379.7 C195.82,378.18 198.48,377.15 202,375.5 C205.52,373.85 211.11,370.75 212.93,369.8" stroke="#0a0a0a" stroke-width="2.3" fill="none" clip-path="url(#clipC)"/>
<path d="M40.6,242.9 H44.4 L44.3,300 L44.5,311 L43.2,311 L41,300 Z" fill="#0a0a0a"/>
<path d="M40.6,242.9 V399" stroke="#111" stroke-width="1.3" fill="none"/>
<path d="M40.6,399 H238.5" stroke="#555" stroke-width="1.3" fill="none"/>
<line x1="40.6" y1="399" x2="40.6" y2="401" stroke="#333" stroke-width="1"/>
<line x1="80.18" y1="399" x2="80.18" y2="401" stroke="#333" stroke-width="1"/>
<line x1="119.76" y1="399" x2="119.76" y2="401" stroke="#333" stroke-width="1"/>
<line x1="159.34" y1="399" x2="159.34" y2="401" stroke="#333" stroke-width="1"/>
<line x1="198.92" y1="399" x2="198.92" y2="401" stroke="#333" stroke-width="1"/>
<line x1="238.5" y1="399" x2="238.5" y2="401" stroke="#333" stroke-width="1"/>
<line x1="38.6" y1="399" x2="40.6" y2="399" stroke="#333" stroke-width="1"/>
<line x1="38.6" y1="346.97" x2="40.6" y2="346.97" stroke="#333" stroke-width="1"/>
<line x1="38.6" y1="294.93" x2="40.6" y2="294.93" stroke="#333" stroke-width="1"/>
<line x1="38.6" y1="242.9" x2="40.6" y2="242.9" stroke="#333" stroke-width="1"/>
<text x="40.6" y="411.8" font-size="11" text-anchor="middle" fill="#111" font-weight="normal" stroke="#111" stroke-width="0.45" font-family="Liberation Sans, sans-serif" >0</text>
<text x="80.18" y="411.8" font-size="11" text-anchor="middle" fill="#111" font-weight="normal" stroke="#111" stroke-width="0.45" font-family="Liberation Sans, sans-serif" >5</text>
<text x="119.76" y="411.8" font-size="11" text-anchor="middle" fill="#111" font-weight="normal" stroke="#111" stroke-width="0.45" font-family="Liberation Sans, sans-serif" >10</text>
<text x="159.34" y="411.8" font-size="11" text-anchor="middle" fill="#111" font-weight="normal" stroke="#111" stroke-width="0.45" font-family="Liberation Sans, sans-serif" >15</text>
<text x="198.92" y="411.8" font-size="11" text-anchor="middle" fill="#111" font-weight="normal" stroke="#111" stroke-width="0.45" font-family="Liberation Sans, sans-serif" >20</text>
<text x="238.5" y="411.8" font-size="11" text-anchor="middle" fill="#111" font-weight="normal" stroke="#111" stroke-width="0.45" font-family="Liberation Sans, sans-serif" >25</text>
<text x="38.2" y="404.2" font-size="11" text-anchor="end" fill="#111" font-weight="normal" stroke="#111" stroke-width="0.45" font-family="Liberation Sans, sans-serif" >0%</text>
<text x="38.2" y="352.17" font-size="11" text-anchor="end" fill="#111" font-weight="normal" stroke="#111" stroke-width="0.45" font-family="Liberation Sans, sans-serif" >20%</text>
<text x="38.2" y="300.13" font-size="11" text-anchor="end" fill="#111" font-weight="normal" stroke="#111" stroke-width="0.45" font-family="Liberation Sans, sans-serif" >40%</text>
<text x="38.2" y="248.1" font-size="11" text-anchor="end" fill="#111" font-weight="normal" stroke="#111" stroke-width="0.45" font-family="Liberation Sans, sans-serif" >60%</text>
<text x="136.4" y="426.3" font-size="11.3" text-anchor="middle" fill="#111" font-weight="normal" stroke="#111" stroke-width="0.4" font-family="Liberation Sans, sans-serif" >Years Since Transplantation</text>
<text x="9.9" y="319.5" font-size="11" text-anchor="middle" fill="#111" font-weight="normal" stroke="#111" stroke-width="0.4" font-family="Liberation Sans, sans-serif" transform="rotate(-90 9.9 319.5)">Hazard Rate per Year</text>
<text x="56.2" y="357.9" font-size="10.8" text-anchor="start" fill="#111" font-weight="normal" stroke="#111" stroke-width="0.4" font-family="Liberation Sans, sans-serif" >non-SCC</text>
<text x="56.2" y="369.4" font-size="10.8" text-anchor="start" fill="#111" font-weight="normal" stroke="#111" stroke-width="0.4" font-family="Liberation Sans, sans-serif" >Death</text>
<text x="159.6" y="350.5" font-size="10.5" text-anchor="start" fill="#d0182c" font-weight="normal" stroke="#d0182c" stroke-width="0.15" font-family="Liberation Sans, sans-serif" >SCC</text>
<text x="0.9" y="232" font-size="24.5" text-anchor="start" fill="#000" font-weight="bold" stroke="#000" stroke-width="1.1" font-family="Liberation Sans, sans-serif" >C</text>
<line x1="351.04" y1="399" x2="351.04" y2="242.9" stroke="#454545" stroke-width="1.3" stroke-dasharray="1.4 2.6" fill="none"/>
<line x1="390.68" y1="399" x2="390.68" y2="242.9" stroke="#454545" stroke-width="1.3" stroke-dasharray="1.4 2.6" fill="none"/>
<line x1="430.32" y1="399" x2="430.32" y2="242.9" stroke="#454545" stroke-width="1.3" stroke-dasharray="1.4 2.6" fill="none"/>
<line x1="469.96" y1="399" x2="469.96" y2="242.9" stroke="#454545" stroke-width="1.3" stroke-dasharray="1.4 2.6" fill="none"/>
<line x1="509.6" y1="399" x2="509.6" y2="242.9" stroke="#454545" stroke-width="1.3" stroke-dasharray="1.4 2.6" fill="none"/>
<line x1="311.4" y1="367.78" x2="509.6" y2="367.78" stroke="#454545" stroke-width="1.3" stroke-dasharray="1.4 2.6" fill="none"/>
<line x1="311.4" y1="336.56" x2="509.6" y2="336.56" stroke="#454545" stroke-width="1.3" stroke-dasharray="1.4 2.6" fill="none"/>
<line x1="311.4" y1="305.34" x2="509.6" y2="305.34" stroke="#454545" stroke-width="1.3" stroke-dasharray="1.4 2.6" fill="none"/>
<line x1="311.4" y1="274.12" x2="509.6" y2="274.12" stroke="#454545" stroke-width="1.3" stroke-dasharray="1.4 2.6" fill="none"/>
<line x1="311.4" y1="242.9" x2="509.6" y2="242.9" stroke="#454545" stroke-width="1.3" stroke-dasharray="1.4 2.6" fill="none"/>
<line x1="359.1" y1="318.5" x2="359.1" y2="348.5" stroke="#1a1a1a" stroke-width="1.2" stroke-opacity="1"/>
<line x1="398.7" y1="315.6" x2="398.7" y2="346.5" stroke="#1a1a1a" stroke-width="1.2" stroke-opacity="1"/>
<line x1="438.7" y1="287.8" x2="438.7" y2="337.5" stroke="#1a1a1a" stroke-width="1.1" stroke-opacity="1"/>
<line x1="478.7" y1="287.8" x2="478.7" y2="336" stroke="#1a1a1a" stroke-width="1" stroke-opacity="1"/>
<line x1="390.7" y1="366.2" x2="390.7" y2="399" stroke="#e86a6a" stroke-width="1" stroke-opacity="1"/>
<line x1="430.4" y1="337.3" x2="430.4" y2="399" stroke="#e86a6a" stroke-width="1" stroke-opacity="1"/>
<line x1="470.3" y1="337.3" x2="470.3" y2="384.7" stroke="#e86a6a" stroke-width="1" stroke-opacity="1"/>
<path d="M311.6,398.8 H353.5 L357.3,394.6 H365.8 V392.3 H369.9 V389.2 H376.5 V386.2 H385.2 V380.3 H409.8 V375.1 H420.8 V369.4 H424.8 V361 H483.4 V328.9" stroke="#d01519" stroke-width="2" fill="none"/>
<path d="M312.2,399 C312.3,385 312.6,368 313.1,359 C313.5,353 314,350 315,347.8 L316.6,345.8 L318.2,343.3 L320.1,338.8 L322.7,337.6 L325.1,335.5 H356.7 V333.8 H375 V331 H418.3 V323.8 H438.5 V313.1 H483.4" stroke="#0a0a0a" stroke-width="2.2" fill="none"/>
<path d="M311.4,242.9 V399" stroke="#111" stroke-width="1.3" fill="none"/>
<path d="M311.4,399 H509.6" stroke="#555" stroke-width="1.3" fill="none"/>
<line x1="311.4" y1="399" x2="311.4" y2="401" stroke="#333" stroke-width="1"/>
<line x1="351.04" y1="399" x2="351.04" y2="401" stroke="#333" stroke-width="1"/>
<line x1="390.68" y1="399" x2="390.68" y2="401" stroke="#333" stroke-width="1"/>
<line x1="430.32" y1="399" x2="430.32" y2="401" stroke="#333" stroke-width="1"/>
<line x1="469.96" y1="399" x2="469.96" y2="401" stroke="#333" stroke-width="1"/>
<line x1="509.6" y1="399" x2="509.6" y2="401" stroke="#333" stroke-width="1"/>
<line x1="309.4" y1="399" x2="311.4" y2="399" stroke="#333" stroke-width="1"/>
<line x1="309.4" y1="367.78" x2="311.4" y2="367.78" stroke="#333" stroke-width="1"/>
<line x1="309.4" y1="336.56" x2="311.4" y2="336.56" stroke="#333" stroke-width="1"/>
<line x1="309.4" y1="305.34" x2="311.4" y2="305.34" stroke="#333" stroke-width="1"/>
<line x1="309.4" y1="274.12" x2="311.4" y2="274.12" stroke="#333" stroke-width="1"/>
<line x1="309.4" y1="242.9" x2="311.4" y2="242.9" stroke="#333" stroke-width="1"/>
<line x1="313" y1="398.7" x2="353.5" y2="398.7" stroke="#7e2838" stroke-width="1.8"/>
<text x="311.4" y="413.7" font-size="11" text-anchor="middle" fill="#111" font-weight="normal" stroke="#111" stroke-width="0.45" font-family="Liberation Sans, sans-serif" >0</text>
<text x="351.04" y="413.7" font-size="11" text-anchor="middle" fill="#111" font-weight="normal" stroke="#111" stroke-width="0.45" font-family="Liberation Sans, sans-serif" >5</text>
<text x="390.68" y="413.7" font-size="11" text-anchor="middle" fill="#111" font-weight="normal" stroke="#111" stroke-width="0.45" font-family="Liberation Sans, sans-serif" >10</text>
<text x="430.32" y="413.7" font-size="11" text-anchor="middle" fill="#111" font-weight="normal" stroke="#111" stroke-width="0.45" font-family="Liberation Sans, sans-serif" >15</text>
<text x="469.96" y="413.7" font-size="11" text-anchor="middle" fill="#111" font-weight="normal" stroke="#111" stroke-width="0.45" font-family="Liberation Sans, sans-serif" >20</text>
<text x="509.6" y="413.7" font-size="11" text-anchor="middle" fill="#111" font-weight="normal" stroke="#111" stroke-width="0.45" font-family="Liberation Sans, sans-serif" >25</text>
<text x="307" y="402.9" font-size="11" text-anchor="end" fill="#111" font-weight="normal" stroke="#111" stroke-width="0.45" font-family="Liberation Sans, sans-serif" >0</text>
<text x="307" y="371.68" font-size="11" text-anchor="end" fill="#111" font-weight="normal" stroke="#111" stroke-width="0.45" font-family="Liberation Sans, sans-serif" >0.2</text>
<text x="307" y="340.46" font-size="11" text-anchor="end" fill="#111" font-weight="normal" stroke="#111" stroke-width="0.45" font-family="Liberation Sans, sans-serif" >0.4</text>
<text x="307" y="309.24" font-size="11" text-anchor="end" fill="#111" font-weight="normal" stroke="#111" stroke-width="0.45" font-family="Liberation Sans, sans-serif" >0.6</text>
<text x="307" y="278.02" font-size="11" text-anchor="end" fill="#111" font-weight="normal" stroke="#111" stroke-width="0.45" font-family="Liberation Sans, sans-serif" >0.8</text>
<text x="307" y="246.8" font-size="11" text-anchor="end" fill="#111" font-weight="normal" stroke="#111" stroke-width="0.45" font-family="Liberation Sans, sans-serif" >1</text>
<text x="410.6" y="426.3" font-size="11.3" text-anchor="middle" fill="#111" font-weight="normal" stroke="#111" stroke-width="0.4" font-family="Liberation Sans, sans-serif" >Years Since Transplantation</text>
<text x="285.6" y="319.5" font-size="11" text-anchor="middle" fill="#111" font-weight="normal" stroke="#111" stroke-width="0.4" font-family="Liberation Sans, sans-serif" transform="rotate(-90 285.6 319.5)">Cumulative Incidence</text>
<text x="367.3" y="287.7" font-size="10.8" text-anchor="start" fill="#111" font-weight="normal" stroke="#111" stroke-width="0.4" font-family="Liberation Sans, sans-serif" >non-SCC</text>
<text x="367.3" y="299.2" font-size="10.8" text-anchor="start" fill="#111" font-weight="normal" stroke="#111" stroke-width="0.4" font-family="Liberation Sans, sans-serif" >Death</text>
<text x="490.4" y="355.4" font-size="10.5" text-anchor="start" fill="#d0182c" font-weight="normal" stroke="#d0182c" stroke-width="0.15" font-family="Liberation Sans, sans-serif" >SCC</text>
<text x="275" y="232.2" font-size="24.5" text-anchor="start" fill="#000" font-weight="bold" stroke="#000" stroke-width="1.1" font-family="Liberation Sans, sans-serif" >D</text>
</svg></body></html>
